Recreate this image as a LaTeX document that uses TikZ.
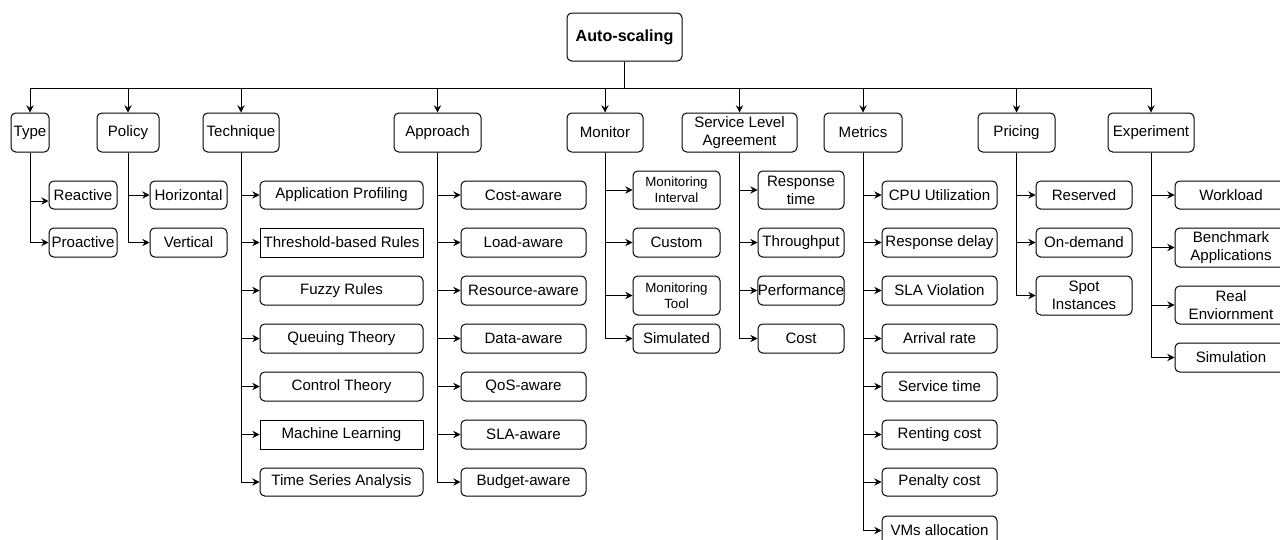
\documentclass[tikz,border=0pt]{standalone}
\usepackage{fontspec}
\setmainfont{Liberation Sans}
\usetikzlibrary{arrows.meta}
\newcommand\mkbox[7][]{\node[bx,#1,minimum width={(#4-#2)*0.75pt},minimum height={(#5-#3)*0.75pt}] (#6) at ({(#2+#4)/2},{(#3+#5)/2}) {#7};}
\tikzset{
  bx/.style={draw=black, line width=0.75pt, rounded corners=3.5pt, inner sep=0pt, align=center,
    font=\fontsize{11.3}{13.5}\selectfont},
  sq/.style={rounded corners=0pt},
  small/.style={font=\fontsize{10}{12}\selectfont},
  arr/.style={draw=black, line width=0.65pt, -{Stealth[length=5.5pt,width=5.5pt,inset=2pt]}},
}
\begin{document}
\begin{tikzpicture}[x=0.75pt,y=-0.75pt]
\useasboundingbox (0,0) rectangle (1280,539);
\begin{scope}
\clip (0,0) rectangle (1280,539);
% root
\mkbox[font=\fontsize{12.1}{14}\selectfont\bfseries]{567}{13}{682}{61}{root}{Auto-scaling}
\coordinate (bus) at (624,88);
% level 1
\mkbox{11}{113}{49}{152}{type}{Type}
\mkbox{97}{113}{159}{152}{policy}{Policy}
\mkbox{203}{113}{279}{152}{tech}{Technique}
\mkbox{394}{113}{481}{152}{appr}{Approach}
\mkbox{567}{113}{643}{152}{mon}{Monitor}
\mkbox{682}{113}{797}{152}{sla}{Service Level\\Agreement}
\mkbox{824}{113}{902}{152}{met}{Metrics}
\mkbox{978}{113}{1055}{152}{pri}{Pricing}
\mkbox{1108}{113}{1194}{152}{exp}{Experiment}
\foreach \n in {type,policy,tech,appr,mon,sla,met,pri,exp}
  \draw[arr] (root.south) -- (root.south|-bus) -| (\n.north);
% Type
\mkbox{49}{181}{117}{209}{reac}{Reactive}
\mkbox{49}{228}{117}{257}{proa}{Proactive}
\draw[arr] (type.south) |- ([yshift=-4.5pt]reac.west);
\draw[arr] (type.south) |- (proa.west);
% Policy
\mkbox{150}{181}{227}{209}{hor}{Horizontal}
\mkbox{150}{228}{227}{257}{ver}{Vertical}
\draw[arr] (policy.south) |- (hor.west);
\draw[arr] (policy.south) |- (ver.west);
% Technique
\mkbox{260}{181}{423}{209}{t1}{Application Profiling}
\mkbox[sq]{260}{228}{423}{257}{t2}{Threshold-based Rules}
\mkbox{260}{276}{423}{305}{t3}{Fuzzy Rules}
\mkbox{260}{324}{423}{353}{t4}{Queuing Theory}
\mkbox{260}{372}{423}{401}{t5}{Control Theory}
\mkbox[sq]{260}{420}{423}{449}{t6}{Machine Learning}
\mkbox{260}{468}{423}{496}{t7}{Time Series Analysis}
\foreach \n in {t1,t2,t3,t4,t5,t6,t7}
  \draw[arr] (tech.south) |- (\n.west);
% Approach
\mkbox{461}{181}{586}{209}{a1}{Cost-aware}
\mkbox{461}{228}{586}{257}{a2}{Load-aware}
\mkbox{461}{276}{586}{305}{a3}{Resource-aware}
\mkbox{461}{324}{586}{353}{a4}{Data-aware}
\mkbox{461}{372}{586}{401}{a5}{QoS-aware}
\mkbox{461}{420}{586}{449}{a6}{SLA-aware}
\mkbox{461}{468}{586}{496}{a7}{Budget-aware}
\foreach \n in {a1,a2,a3,a4,a5,a6,a7}
  \draw[arr] (appr.south) |- (\n.west);
% Monitor
\mkbox[small]{633}{171}{720}{209}{m1}{Monitoring\\Interval}
\mkbox{633}{228}{720}{257}{m2}{Custom}
\mkbox[small]{633}{276}{720}{315}{m3}{Monitoring\\Tool}
\mkbox{633}{324}{720}{353}{m4}{Simulated}
\foreach \n in {m1,m2,m3,m4}
  \draw[arr] (mon.south) |- (\n.west);
% SLA
\mkbox{758}{171}{844}{209}{s1}{Response\\time}
\mkbox{758}{228}{844}{257}{s2}{Throughput}
\mkbox{758}{276}{844}{305}{s3}{Performance}
\mkbox{758}{324}{844}{353}{s4}{Cost}
\foreach \n in {s1,s2,s3,s4}
  \draw[arr] (sla.south) |- (\n.west);
% Metrics
\mkbox{882}{181}{997}{209}{e1}{CPU Utilization}
\mkbox{882}{228}{997}{257}{e2}{Response delay}
\mkbox{882}{276}{997}{305}{e3}{SLA Violation}
\mkbox{882}{324}{997}{353}{e4}{Arrival rate}
\mkbox{882}{372}{997}{401}{e5}{Service time}
\mkbox{882}{420}{997}{449}{e6}{Renting cost}
\mkbox{882}{468}{997}{496}{e7}{Penalty cost}
\mkbox{882}{516}{997}{545}{e8}{VMs allocation}
\foreach \n in {e1,e2,e3,e4,e5,e6,e7,e8}
  \draw[arr] (met.south) |- (\n.west);
% Pricing
\mkbox{1036}{181}{1132}{209}{p1}{Reserved}
\mkbox{1036}{228}{1132}{257}{p2}{On-demand}
\mkbox{1036}{276}{1132}{315}{p3}{Spot\\Instances}
\foreach \n in {p1,p2,p3}
  \draw[arr] (pri.south) |- (\n.west);
% Experiment
\mkbox{1175}{181}{1287}{209}{x1}{Workload}
\mkbox{1175}{228}{1287}{267}{x2}{Benchmark\\Applications}
\mkbox{1175}{286}{1287}{324}{x3}{Real\\Enviornment}
\mkbox{1175}{343}{1287}{372}{x4}{Simulation}
\foreach \n in {x1,x2,x3,x4}
  \draw[arr] (exp.south) |- (\n.west);
\end{scope}
\end{tikzpicture}
\end{document}
